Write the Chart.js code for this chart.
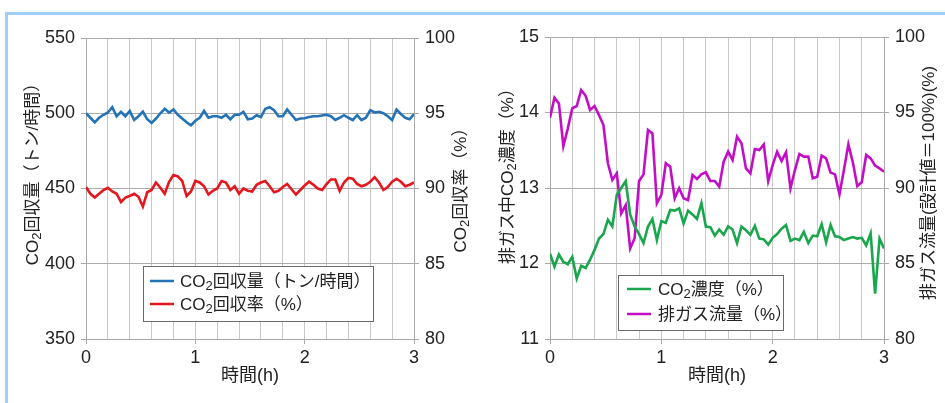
<!DOCTYPE html>
<html>
<head>
<meta charset="utf-8">
<script src="https://cdn.jsdelivr.net/npm/chart.js@4/dist/chart.umd.min.js"></script>
<style>
  html, body { margin: 0; padding: 0; background: #fff; }
  #wrap { position: relative; width: 945px; height: 403px; overflow: hidden; background: #fff; }
  #frame { position: absolute; left: 5px; top: 12px; right: -10px; bottom: -10px;
           border-top: 3px solid #a3cdf6; border-left: 3px solid #a3cdf6; }
  canvas { position: absolute; top: 0; }
  #leftChart { left: 0; }
  #rightChart { left: 472px; }
</style>
</head>
<body>
<div id="wrap">
  <div id="frame"></div>
  <canvas id="leftChart" width="472" height="403"></canvas>
  <canvas id="rightChart" width="473" height="403"></canvas>
</div>
<script>
// time axis (h)
const times = [0, 0.04, 0.08, 0.12, 0.16, 0.2, 0.24, 0.28, 0.32, 0.36, 0.4, 0.44, 0.48, 0.52, 0.56,
  0.6, 0.64, 0.68, 0.72, 0.76, 0.8, 0.84, 0.88, 0.92, 0.96, 1, 1.04, 1.08, 1.12, 1.16, 1.2, 1.24,
  1.28, 1.32, 1.36, 1.4, 1.44, 1.48, 1.52, 1.56, 1.6, 1.64, 1.68, 1.72, 1.76, 1.8, 1.84, 1.88, 1.92,
  1.96, 2, 2.04, 2.08, 2.12, 2.16, 2.2, 2.24, 2.28, 2.32, 2.36, 2.4, 2.44, 2.48, 2.52, 2.56, 2.6,
  2.64, 2.68, 2.72, 2.76, 2.8, 2.84, 2.88, 2.92, 2.96, 3];

// CO2回収量 (トン/時間)
const recoveryAmount = [500, 497, 494, 497, 499, 500.5, 504, 498, 501, 498,
  501.5, 495.5, 498, 501, 496, 493.5, 496.5, 500, 503, 500.5,
  502.5, 499, 496.5, 494, 492, 495, 497, 501.5, 497, 498,
  498, 497, 499, 496, 499, 499, 501, 496, 496.5, 498.7,
  497.5, 503, 504, 502, 498, 498, 502.5, 499, 495.5, 496.5,
  496.7, 497.5, 498, 498, 498.5, 499, 498, 495.5, 497, 498.7,
  497, 495.5, 498.7, 495.5, 497, 502, 500.5, 501, 500, 498,
  495.5, 502.5, 499.5, 497, 496, 499.5];

// CO2回収率 (%)
const recoveryRate = [90.1, 89.65, 89.4, 89.65, 89.9, 90.05, 89.8, 89.65, 89.1, 89.4,
  89.5, 89.65, 89.45, 88.8, 89.75, 89.9, 90.4, 90.05, 89.65, 90.45,
  90.9, 90.8, 90.5, 89.5, 89.8, 90.5, 90.4, 90.15, 89.6, 89.85,
  90, 90.5, 90.4, 89.9, 90.15, 89.65, 90, 89.85, 89.8, 90.25,
  90.4, 90.5, 90.15, 89.75, 89.85, 90.1, 90.3, 89.95, 89.6, 89.9,
  90.2, 90.45, 90.25, 90, 89.9, 90.3, 90.6, 90.6, 89.85, 90.4,
  90.7, 90.65, 90.3, 90.15, 90.25, 90.45, 90.75, 90.4, 89.9, 90.1,
  90.45, 90.65, 90.45, 90.15, 90.25, 90.4];

// 排ガス中CO2濃度 (%)
const co2Conc = [12.13, 11.96, 12.12, 12.02, 11.99, 12.09, 11.8, 11.97, 11.94, 12.05,
  12.18, 12.33, 12.39, 12.58, 12.49, 12.91, 13.0, 13.09, 12.65, 12.49,
  12.39, 12.27, 12.49, 12.59, 12.31, 12.56, 12.54, 12.71, 12.7, 12.73,
  12.53, 12.7, 12.65, 12.59, 12.8, 12.49, 12.48, 12.37, 12.45, 12.38,
  12.49, 12.45, 12.27, 12.49, 12.44, 12.38, 12.5, 12.33, 12.32, 12.25,
  12.34, 12.39, 12.46, 12.51, 12.3, 12.33, 12.31, 12.42, 12.27, 12.37,
  12.36, 12.52, 12.28, 12.51, 12.36, 12.35, 12.31, 12.33, 12.35, 12.33,
  12.34, 12.24, 12.4, 11.6, 12.33, 12.2];

// 排ガス流量 (設計値=100%)
const gasFlow = [94.66, 95.98, 95.6, 92.78, 93.95, 95.28, 95.43, 96.49, 96.11, 95.17,
  95.43, 94.83, 94.17, 91.64, 90.53, 90.97, 88.32, 88.87, 86.0, 86.67,
  90.46, 90.9, 93.84, 93.62, 88.99, 89.54, 91.64, 91.41, 89.32, 89.98,
  89.32, 89.2, 90.86, 90.6, 90.9, 91.04, 90.46, 90.46, 90.09, 91.74,
  92.41, 91.85, 93.4, 92.96, 91.3, 90.97, 92.58, 92.52, 92.89, 90.46,
  91.52, 92.41, 91.79, 92.36, 89.98, 91.19, 92.25, 92.08, 92.08, 90.64,
  90.75, 92.14, 91.96, 91.02, 90.9, 89.58, 91.19, 92.89, 91.7, 90.13,
  90.38, 92.19, 91.96, 91.48, 91.3, 91.08];

const FONT = '"Liberation Sans Narrow", "Liberation Sans", "Noto Sans CJK JP", sans-serif';
const TXT = '#222';

const isWhole = v => Math.abs(v - Math.round(v)) < 1e-6;
const pts = ys => ys.map((y, i) => ({ x: times[i], y }));

// text with "₂" drawn as a lowered, smaller "2"
function drawRich(ctx, text, x, y, size, align) {
  const parts = text.split('₂');
  const big = size + 'px ' + FONT, small = Math.round(size * 0.78) + 'px ' + FONT;
  const pieces = [];
  parts.forEach((p, i) => {
    if (p) pieces.push({ t: p, f: big, dy: 0 });
    if (i < parts.length - 1) pieces.push({ t: '2', f: small, dy: size * 0.16 });
  });
  let total = 0;
  pieces.forEach(p => { ctx.font = p.f; p.w = ctx.measureText(p.t).width; total += p.w; });
  let cx = align === 'center' ? x - total / 2 : x;
  ctx.textAlign = 'left';
  ctx.textBaseline = 'alphabetic';
  const base = y + size * 0.36;
  pieces.forEach(p => { ctx.font = p.f; ctx.fillText(p.t, cx, base + p.dy); cx += p.w; });
}

// draws rotated y-axis titles and the boxed legend
const decorPlugin = {
  id: 'decor',
  afterDatasetsDraw(chart, args, opts) {
    const ctx = chart.ctx;
    ctx.save();
    ctx.fillStyle = TXT;
    opts.titles.forEach(t => {
      ctx.save();
      ctx.translate(t.x, t.y);
      ctx.rotate(-Math.PI / 2);
      drawRich(ctx, t.text, 0, 0, t.size || 17, 'center');
      ctx.restore();
    });
    const lg = opts.legend;
    ctx.fillStyle = '#fff';
    ctx.fillRect(lg.x, lg.y, lg.w, lg.h);
    ctx.strokeStyle = '#6a6a6a';
    ctx.lineWidth = 1;
    ctx.strokeRect(lg.x + 0.5, lg.y + 0.5, lg.w, lg.h);
    chart.data.datasets.forEach((ds, i) => {
      const y = lg.y + lg.rows[i];
      ctx.strokeStyle = ds.borderColor;
      ctx.lineWidth = 2.5;
      ctx.beginPath();
      ctx.moveTo(lg.x + lg.lineX, y);
      ctx.lineTo(lg.x + lg.lineX + 24, y);
      ctx.stroke();
      ctx.fillStyle = TXT;
      drawRich(ctx, ds.label, lg.x + lg.textX, y, 17, 'left');
    });
    ctx.restore();
  }
};

function xScale() {
  return {
    type: 'linear', min: 0, max: 3,
    afterFit: s => { s.height = 64; },
    afterBuildTicks: s => { s.ticks = times.filter((t, i) => i % 5 === 0).map(v => ({ value: v })); },
    grid: {
      color: '#c8c8c8', lineWidth: 1, tickLength: 5,
      tickColor: c => isWhole(c.tick.value) ? '#a8a8a8' : 'rgba(0,0,0,0)'
    },
    border: { color: '#a8a8a8' },
    ticks: {
      autoSkip: false, maxRotation: 0, padding: 3, color: TXT,
      font: { family: FONT, size: 18 },
      callback: v => isWhole(v) ? String(Math.round(v)) : ''
    },
    title: {
      display: true, text: '時間(h)', color: TXT,
      font: { family: FONT, size: 18, lineHeight: 1.2 },
      padding: { top: 0, bottom: 16 }
    }
  };
}

function yScale(pos, min, max, step, width, onChart) {
  return {
    type: 'linear', position: pos, min, max,
    afterFit: s => { s.width = width; },
    grid: { drawOnChartArea: onChart, color: '#acacac', tickLength: 5, tickColor: '#a8a8a8' },
    border: { color: '#a8a8a8' },
    ticks: { stepSize: step, padding: 6, color: TXT, font: { family: FONT, size: 18 } }
  };
}

function lineSet(label, data, color, axis) {
  return {
    label, data: pts(data), yAxisID: axis, borderColor: color, backgroundColor: color,
    borderWidth: 2.6, pointRadius: 0, tension: 0, fill: false
  };
}

new Chart(document.getElementById('leftChart'), {
  type: 'line',
  data: {
    datasets: [
      lineSet('CO₂回収量（トン/時間）', recoveryAmount, '#2473b6', 'y'),
      lineSet('CO₂回収率（%）', recoveryRate, '#e4161e', 'y1')
    ]
  },
  options: {
    responsive: false, animation: false,
    layout: { padding: { top: 38, left: 0, right: 0, bottom: 0 } },
    scales: {
      x: xScale(),
      y: yScale('left', 350, 550, 50, 86, true),
      y1: yScale('right', 80, 100, 5, 58, false)
    },
    plugins: {
      legend: { display: false },
      tooltip: { enabled: false },
      decor: {
        titles: [
          { text: 'CO₂回収量（トン/時間）', x: 32, y: 170 },
          { text: 'CO₂回収率（%）', x: 460, y: 186 }
        ],
        legend: { x: 143, y: 266, w: 230, h: 55, rows: [15, 38], lineX: 7, textX: 37 }
      }
    }
  },
  plugins: [decorPlugin]
});

new Chart(document.getElementById('rightChart'), {
  type: 'line',
  data: {
    datasets: [
      lineSet('CO₂濃度（%）', co2Conc, '#1aa64c', 'y'),
      lineSet('排ガス流量（%）', gasFlow, '#c20fc6', 'y1')
    ]
  },
  options: {
    responsive: false, animation: false,
    layout: { padding: { top: 37, left: 0, right: 0, bottom: 0 } },
    scales: {
      x: xScale(),
      y: yScale('left', 11, 15, 1, 78, true),
      y1: yScale('right', 80, 100, 5, 61, false)
    },
    plugins: {
      legend: { display: false },
      tooltip: { enabled: false },
      decor: {
        titles: [
          { text: '排ガス中CO₂濃度（%）', x: 35, y: 172 },
          { text: '排ガス流量(設計値＝100%)(%)', x: 456, y: 183 }
        ],
        legend: { x: 146, y: 275, w: 165, h: 55, rows: [14, 39], lineX: 9, textX: 40 }
      }
    }
  },
  plugins: [decorPlugin]
});
</script>
</body>
</html>
